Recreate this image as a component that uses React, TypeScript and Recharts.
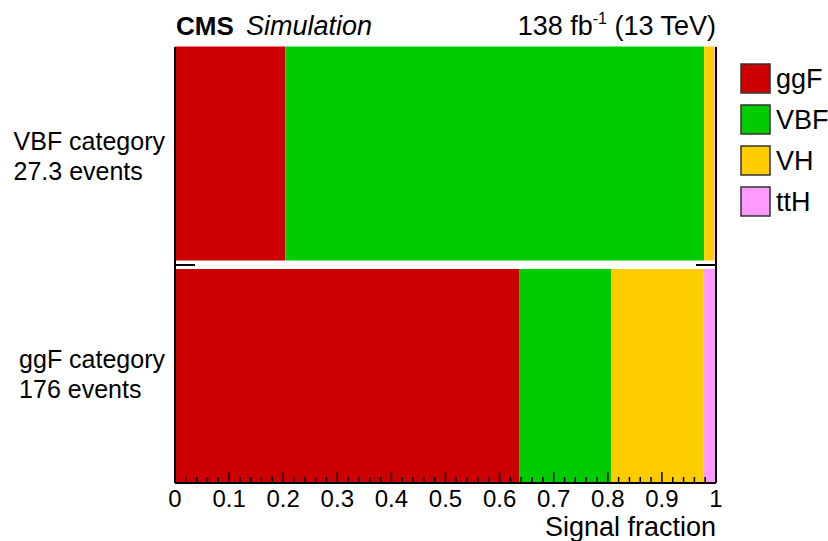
import { BarChart, Bar, XAxis, YAxis, ReferenceLine } from 'recharts'

const categories = ['VBF category', 'ggF category']
const eventCounts = ['27.3 events', '176 events']

// signal fraction per production mode, one value per category
const ggF = [0.204, 0.637]
const VBF = [0.774, 0.169]
const VH = [0.019, 0.171]
const ttH = [0.003, 0.023]

const processes = ['ggF', 'VBF', 'VH', 'ttH']
const processColors = ['#cc0000', '#00cc00', '#ffcc00', '#ff99ff']

const majorTicks = [0, 0.1, 0.2, 0.3, 0.4, 0.5, 0.6, 0.7, 0.8, 0.9, 1]
const tickLabels = ['0', '0.1', '0.2', '0.3', '0.4', '0.5', '0.6', '0.7', '0.8', '0.9', '1']

const FONT = '"Liberation Sans", Arial, Helvetica, sans-serif'
const PLOT_LEFT = 175
const PLOT_RIGHT = 716
const PLOT_TOP = 47
const PLOT_BOTTOM = 483

const data = categories.map((c, i) => ({
  category: c,
  ggF: ggF[i],
  VBF: VBF[i],
  VH: VH[i],
  ttH: ttH[i],
}))

// minor ticks every 0.02 between the labelled ones
const allTicks = majorTicks.flatMap((v, i) =>
  i === majorTicks.length - 1 ? [v] : [0, 1, 2, 3, 4].map(k => +(v + k * 0.02).toFixed(2))
)

const isMajor = (v: number) => Math.abs(v * 10 - Math.round(v * 10)) < 1e-6

let ctx: CanvasRenderingContext2D | null = null
const textWidth = (s: string, font: string) => {
  if (!ctx) ctx = document.createElement('canvas').getContext('2d')
  if (!ctx) return s.length * 12
  ctx.font = font
  return ctx.measureText(s).width
}

const BottomTick = (props: any) => {
  const { x, y, payload } = props
  const major = isMajor(payload.value)
  return (
    <g>
      <line x1={x} x2={x} y1={y} y2={y - (major ? 11 : 6)} stroke="#000" strokeWidth={1.5} />
      {major && (
        <text x={x} y={y + 24} textAnchor="middle" fontSize={24} fontFamily={FONT} fill="#000">
          {tickLabels[Math.round(payload.value * 10)]}
        </text>
      )}
    </g>
  )
}

const TopTick = (props: any) => {
  const { x, y, payload } = props
  const major = isMajor(payload.value)
  return <line x1={x} x2={x} y1={y} y2={y + (major ? 11 : 6)} stroke="#000" strokeWidth={1.5} />
}

const CategoryTick = (props: any) => {
  const { x, payload, index } = props
  const w = textWidth(payload.value, `25px ${FONT}`)
  const left = x - w
  // labels are centred on the frame halves, not on the (stretched) bars
  const band = (PLOT_BOTTOM - PLOT_TOP) / categories.length
  const cy = PLOT_TOP + band * (index + 0.5)
  const split = PLOT_TOP + band
  return (
    <g>
      <text x={left} y={cy - 6.5} fontSize={25} fontFamily={FONT} fill="#000">
        {payload.value}
      </text>
      <text x={left} y={cy + 24} fontSize={25} fontFamily={FONT} fill="#000">
        {eventCounts[index]}
      </text>
      {index === 0 && (
        <g stroke="#000" strokeWidth={2}>
          <line x1={PLOT_LEFT} x2={PLOT_LEFT + 20} y1={split} y2={split} />
          <line x1={PLOT_RIGHT - 20} x2={PLOT_RIGHT} y1={split} y2={split} />
        </g>
      )}
    </g>
  )
}

const AxisTitle = (props: any) => {
  const vb = props.viewBox || { x: PLOT_LEFT, y: PLOT_BOTTOM, width: PLOT_RIGHT - PLOT_LEFT }
  return (
    <text x={vb.x + vb.width} y={vb.y + 53} textAnchor="end" fontSize={27} fontFamily={FONT} fill="#000">
      Signal fraction
    </text>
  )
}

export default function App() {
  return (
    <div style={{ position: 'absolute', left: 0, top: 0, width: 828, height: 541, background: '#fff', fontFamily: FONT }}>
      <BarChart
        width={828}
        height={541}
        data={data}
        layout="vertical"
        barSize={214}
        margin={{ top: PLOT_TOP, right: 828 - PLOT_RIGHT, bottom: 0, left: 0 }}
      >
        {processes.map((p, i) => (
          <Bar key={p} dataKey={p} name={p} stackId="s" fill={processColors[i]} isAnimationActive={false} />
        ))}
        <ReferenceLine x={1} stroke="#000" strokeWidth={2} />
        <YAxis
          type="category"
          dataKey="category"
          width={PLOT_LEFT}
          padding={{ top: -4.5, bottom: -4.5 }}
          axisLine={{ stroke: '#000', strokeWidth: 2 }}
          tickLine={false}
          tickSize={0}
          tickMargin={10}
          tick={<CategoryTick />}
        />
        <XAxis
          type="number"
          domain={[0, 1]}
          ticks={allTicks}
          interval={0}
          height={541 - PLOT_BOTTOM}
          axisLine={{ stroke: '#000', strokeWidth: 2 }}
          tickLine={false}
          tickSize={0}
          tickMargin={0}
          tick={<BottomTick />}
          label={<AxisTitle />}
        />
        <XAxis
          xAxisId="top"
          orientation="top"
          type="number"
          domain={[0, 1]}
          ticks={allTicks}
          interval={0}
          height={0}
          axisLine={{ stroke: '#000', strokeWidth: 2 }}
          tickLine={false}
          tickSize={0}
          tickMargin={0}
          tick={<TopTick />}
        />
      </BarChart>
      <svg width={828} height={541} style={{ position: 'absolute', left: 0, top: 0, pointerEvents: 'none' }}>
        <text x={176} y={35} fontSize={26} fontWeight="bold" fontFamily={FONT}>CMS</text>
        <text x={246} y={35} fontSize={27} fontStyle="italic" fontFamily={FONT}>Simulation</text>
        <text x={716} y={35} fontSize={27} textAnchor="end" fontFamily={FONT}>
          138 fb<tspan dy={-11} fontSize={16}>-1</tspan>
          <tspan dy={11}> (13 TeV)</tspan>
        </text>
        {processes.map((p, i) => (
          <g key={p}>
            <rect x={741} y={64 + 41 * i} width={29} height={29} fill={processColors[i]} stroke="#333" strokeWidth={1.5} />
            <text x={776} y={88 + 41 * i} fontSize={27} fontFamily={FONT}>{p}</text>
          </g>
        ))}
      </svg>
    </div>
  )
}
